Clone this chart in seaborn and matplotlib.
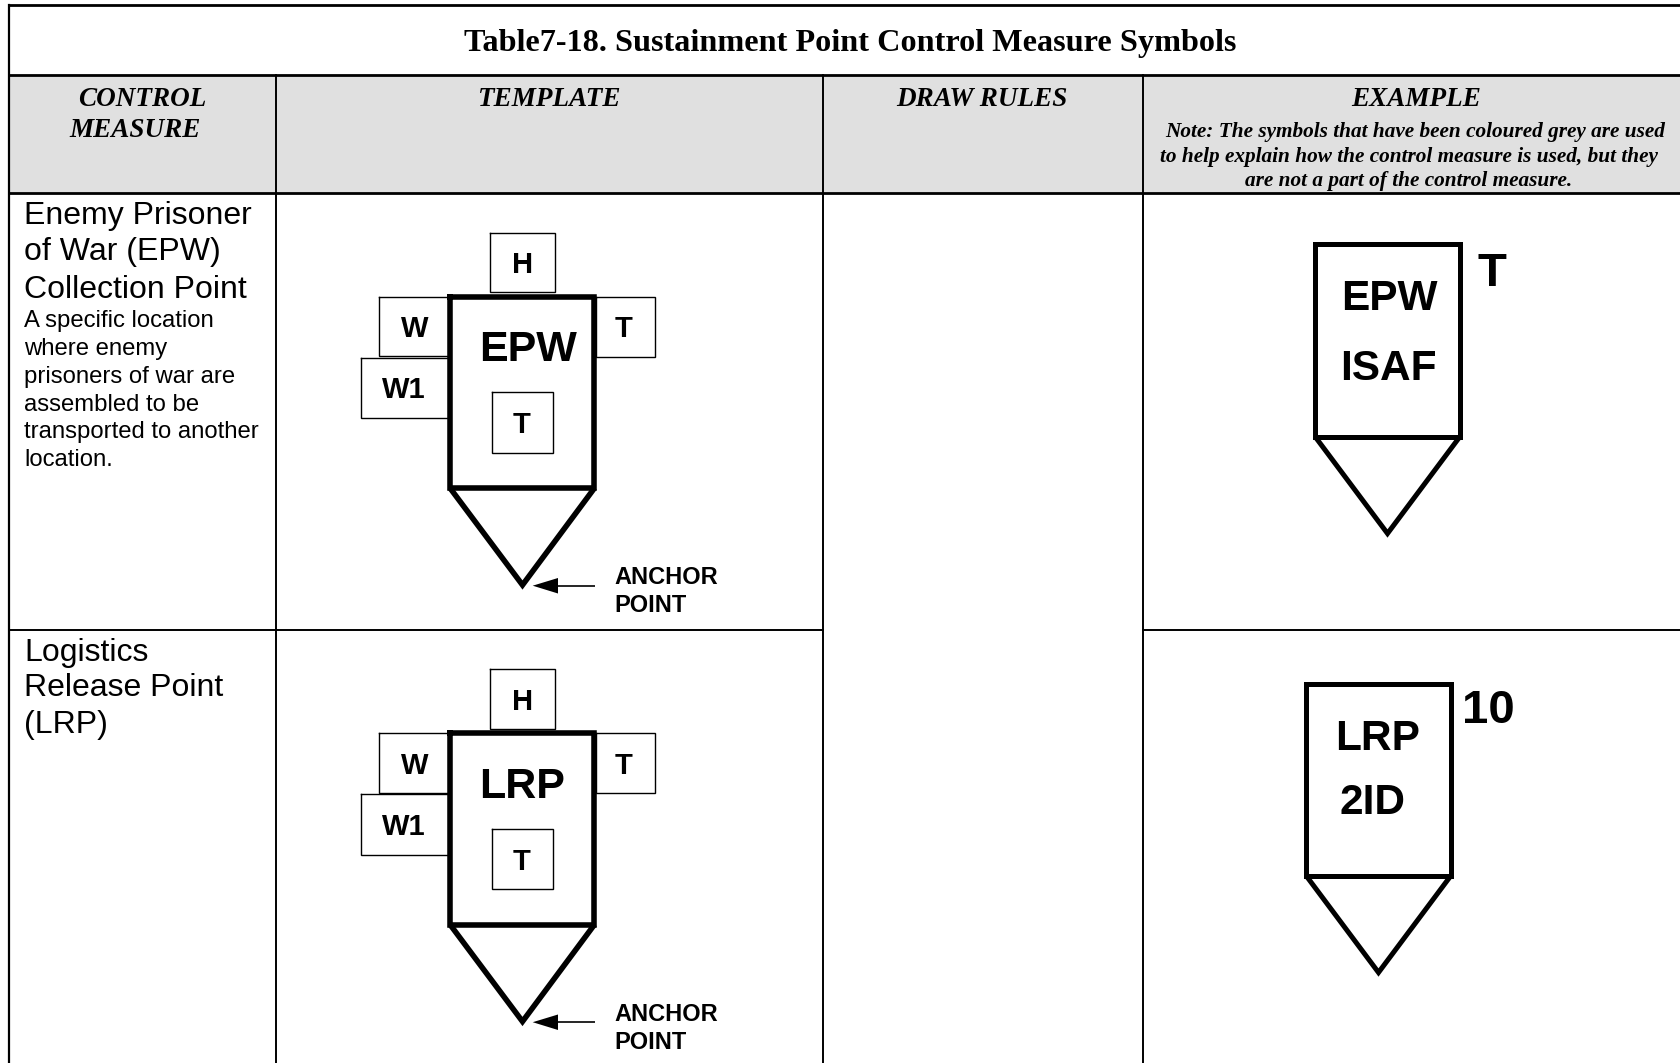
import matplotlib
matplotlib.use("Agg")
import matplotlib.pyplot as plt
import seaborn as sns

sns.set_theme(style="white")
plt.rcParams['font.family'] = ['Liberation Sans', 'DejaVu Sans']

# table text
title = "Table7-18. Sustainment Point Control Measure Symbols"
headers = ["CONTROL", "MEASURE", "TEMPLATE", "DRAW RULES", "EXAMPLE"]
header_x = [142, 135, 549, 982, 1416]
header_y = [106, 137, 106, 106, 106]
note_lines = ["Note: The symbols that have been coloured grey are used",
              "to help explain how the control measure is used, but they",
              "are not a part of the control measure."]
note_x = [1415, 1409, 1409]
note_y = [137, 162, 186]
names = ["Enemy Prisoner", "of War (EPW)", "Collection Point", "Logistics", "Release Point", "(LRP)"]
names_y = [224, 260, 298, 660.5, 696.5, 733]
desc = ["A specific location", "where enemy", "prisoners of war are",
        "assembled to be", "transported to another", "location."]
desc_y = [327, 355, 383, 411, 438, 466]

# table lines
col_x = [9.5, 276, 823, 1143]
top_y, head_y, body_y, row_y, bottom_y = 5, 75, 193, 630, 1063
right_x = 1681

# template symbols, one entry per row
row_shift = [0, 436.5]
main_labels = ["EPW", "LRP"]
box_labels = ["H", "W", "W1", "T"]
box_left = [490.5, 379.5, 361.5, 596.5]
box_right = [555, 450, 450, 655]
box_top = [232.5, 296.5, 357.5, 296.5]
box_bottom = [292, 356, 418, 356.5]
box_text_x = [522.7, 415, 404, 624]
box_text_y = [265, 329, 390.5, 329]

# example symbols
ex_left = [1315, 1306]
ex_right = [1460, 1451]
ex_top = [244, 683.5]
ex_bottom = [436.5, 875.5]
ex_tip = [533.5, 972.5]
ex_lines = [["EPW", "ISAF"], ["LRP", "2ID"]]
ex_text_x = [[1389.5, 1388], [1377.5, 1373]]
ex_text_y = [[298.5, 369], [738.5, 803.5]]
ex_side = ["T", "10"]
ex_side_x = [1492, 1488.5]
ex_side_y = [274, 711]


def line(ax, xs, ys, lw, color='black', join='miter', cap='projecting'):
    df_line = sns.lineplot(x=xs, y=ys, sort=False, estimator=None, ax=ax, color=color,
                           linewidth=lw, legend=False)
    l = df_line.lines[-1]
    l.set_solid_joinstyle(join)
    l.set_solid_capstyle(cap)


fig, ax = plt.subplots(figsize=(16.81, 10.63), dpi=100)
fig.subplots_adjust(left=0, right=1, top=1, bottom=0)
ax.axis('off')

# header band
ax.fill_between([col_x[0], right_x], head_y, body_y, color='#e0e0e0', lw=0, zorder=0)

# grid
for y in [top_y, head_y, body_y]:
    line(ax, [col_x[0], right_x], [y, y], 2.0)
line(ax, [col_x[0], col_x[0]], [top_y, bottom_y], 1.6)
for x in col_x[1:]:
    line(ax, [x, x], [head_y, bottom_y], 1.4)
line(ax, [col_x[0], col_x[2]], [row_y, row_y], 1.4)
line(ax, [col_x[3], right_x], [row_y, row_y], 1.4)

# table text
serif = ['Liberation Serif', 'DejaVu Serif']
ax.text(850, 51.5, title, family=serif, weight='bold', fontsize=23.2, ha='center', va='baseline', color='black')
for t, x, y in zip(headers, header_x, header_y):
    ax.text(x, y, t, family=serif, weight='bold', style='italic', fontsize=19.5, ha='center', va='baseline', color='black')
for t, x, y in zip(note_lines, note_x, note_y):
    ax.text(x, y, t, family=serif, weight='bold', style='italic', fontsize=15.3, ha='center', va='baseline', color='black')
for t, y in zip(names, names_y):
    ax.text(24, y, t, fontsize=23, ha='left', va='baseline', color='black')
for t, y in zip(desc, desc_y):
    ax.text(24, y, t, fontsize=17.2, ha='left', va='baseline', color='black')

# template symbols
for shift, label in zip(row_shift, main_labels):
    for t, x0, x1, y0, y1, tx, ty in zip(box_labels, box_left, box_right, box_top, box_bottom, box_text_x, box_text_y):
        line(ax, [x0, x1, x1, x0, x0], [y0 + shift, y0 + shift, y1 + shift, y1 + shift, y0 + shift], 1.0)
        ax.text(tx, ty + shift, t, weight='bold', fontsize=21, ha='center', va='center', color='black')
    # white under the heavy outline so the side boxes stop at it
    ax.fill_between([450, 594.5], 296.5 + shift, 488 + shift, color='white', lw=0, zorder=1.5)
    line(ax, [450, 594.5, 594.5, 450, 450], [296.5 + shift, 296.5 + shift, 488 + shift, 488 + shift, 296.5 + shift], 4.0)
    line(ax, [450, 522.5, 594.5], [488 + shift, 585 + shift, 488 + shift], 4.0, cap='butt')
    ax.text(527.7 if label == "EPW" else 522, 350 + shift, label, weight='bold', fontsize=31, ha='center', va='center', color='black')
    ax.text(522, 425 + shift, "T", weight='bold', fontsize=21, ha='center', va='center', color='black', zorder=3)
    line(ax, [492, 553, 553, 492, 492], [392 + shift, 392 + shift, 452.5 + shift, 452.5 + shift, 392 + shift], 1.0)
    # anchor arrow
    line(ax, [557, 595], [585.7 + shift, 585.7 + shift], 1.2, cap='butt')
    ax.fill([532.7, 558, 558], [585.7 + shift, 578 + shift, 593.5 + shift], color='black', lw=0)
    ax.text(614.5, 584.5 + shift, "ANCHOR", weight='bold', fontsize=17, ha='left', va='baseline', color='black')
    ax.text(614.5, 612.5 + shift, "POINT", weight='bold', fontsize=17, ha='left', va='baseline', color='black')

# example symbols
for i in range(2):
    x0, x1, y0, y1 = ex_left[i], ex_right[i], ex_top[i], ex_bottom[i]
    line(ax, [x0, x1, x1, x0, x0], [y0, y0, y1, y1, y0], 3.6)
    line(ax, [x0, (x0 + x1) / 2, x1], [y1, ex_tip[i], y1], 3.6, cap='butt')
    for t, tx, ty in zip(ex_lines[i], ex_text_x[i], ex_text_y[i]):
        ax.text(tx, ty, t, weight='bold', fontsize=30.5, ha='center', va='center', color='black')
    ax.text(ex_side_x[i], ex_side_y[i], ex_side[i], weight='bold', fontsize=34, ha='center', va='center', color='black')

ax.set_xlim(0, 1681)
ax.set_ylim(1063, 0)
fig.savefig("out.png", dpi=100, facecolor='white')
